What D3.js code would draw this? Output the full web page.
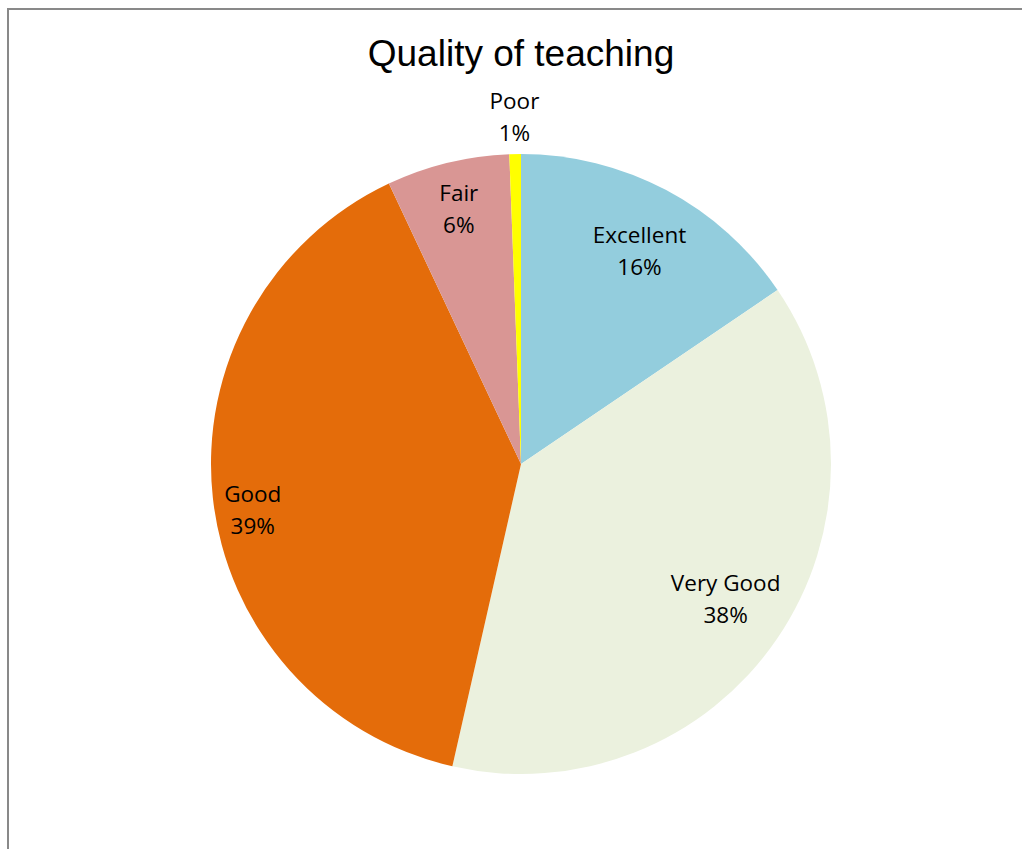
<!DOCTYPE html>
<html>
<head>
<meta charset="utf-8">
<script src="https://cdn.jsdelivr.net/npm/d3@7"></script>
<style>
  html, body { margin: 0; padding: 0; background: #fff; overflow: hidden; }
</style>
</head>
<body>
<svg id="chart" width="1022" height="849"></svg>
<script>
const categories = ["Excellent", "Very Good", "Good", "Fair", "Poor"];
const values = [15.5, 38.0, 39.4, 6.4, 0.6];
const colors = ["#93CDDD", "#EBF1DE", "#E46C0A", "#D99694", "#FFFF00"];
const title = "Quality of teaching";
// label layout only: radial position (fraction of radius) and angular shift (degrees)
const labelRadius = [0.785, 0.79, 0.878, 0.848, 1.12];
const labelShift = [1.2, -1.0, -3.5, 0, 0];

const svg = d3.select("#chart");
const W = 1022, H = 849;

svg.append("rect")
  .attr("x", 8).attr("y", 9)
  .attr("width", W + 20).attr("height", H + 20)
  .attr("fill", "#fff")
  .attr("stroke", "#898989")
  .attr("stroke-width", 2);

svg.append("text")
  .attr("x", 521).attr("y", 66)
  .attr("text-anchor", "middle")
  .style("font-family", "'Liberation Sans', Arial, sans-serif")
  .style("font-size", "37px")
  .attr("fill", "#000")
  .text(title);

const cx = 521, cy = 464, R = 310;
const g = svg.append("g").attr("transform", `translate(${cx},${cy})`);

const data = categories.map((c, i) => ({ cat: c, value: values[i], color: colors[i], lr: labelRadius[i], ls: labelShift[i] }));
const pie = d3.pie().value(d => d.value).sort(null);
const arcs = pie(data);
const total = d3.sum(values);
const arc = d3.arc().innerRadius(0).outerRadius(R);

g.selectAll("path.slice")
  .data(arcs)
  .enter().append("path")
  .attr("class", "slice")
  .attr("d", arc)
  .attr("fill", d => d.data.color);

const labels = g.selectAll("text.lbl")
  .data(arcs)
  .enter().append("text")
  .attr("class", "lbl")
  .attr("text-anchor", "middle")
  .style("font-family", "'Open Sans', Lato, sans-serif")
  .style("font-size", "22.5px")
  .attr("fill", "#000")
  .attr("transform", d => {
    const a = (d.startAngle + d.endAngle) / 2 + d.data.ls * Math.PI / 180;
    const r = R * d.data.lr;
    return `translate(${r * Math.sin(a)},${-r * Math.cos(a)})`;
  });

labels.append("tspan").attr("x", 0).attr("y", -8).text(d => d.data.cat);
labels.append("tspan").attr("x", 0).attr("y", 24).text(d => Math.round(d.data.value / total * 100) + "%");
</script>
</body>
</html>
